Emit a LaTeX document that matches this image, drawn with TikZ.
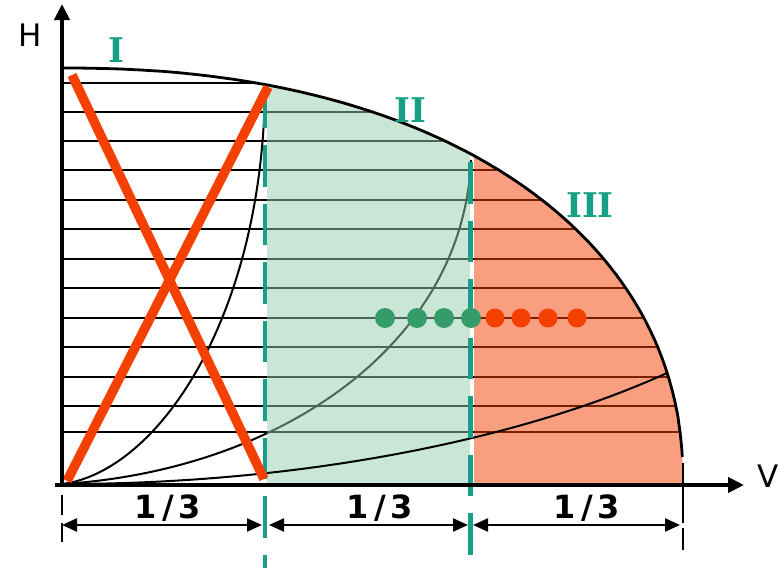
\documentclass[tikz,border=0pt]{standalone}
\usepackage{fontspec}
\usetikzlibrary{arrows.meta}
\newfontfamily\dvs{DejaVu Sans}
\newfontfamily\dvserif{DejaVu Serif}
\definecolor{tealc}{RGB}{22,160,133}
\definecolor{orangec}{RGB}{244,64,0}
\definecolor{greenfill}{RGB}{147,205,173}
\definecolor{dotg}{RGB}{53,155,106}
\begin{document}
\begin{tikzpicture}[x=1pt,y=-1pt,
  hatch/.style={line width=2.4pt,black},
  syscurve/.style={line width=2pt,black},
  bound/.style={line width=2.8pt,black},
  tealdash/.style={line width=4.5pt,tealc,dash pattern=on 41.5pt off 17pt},
  xstroke/.style={line width=9.5pt,orangec},
  axisline/.style={line width=4.8pt,black,-{Triangle[length=16pt,width=15pt]}},
  dimarrow/.style={line width=2.2pt,black,{Triangle[length=15pt,width=13pt]}-{Triangle[length=15pt,width=13pt]}},
  tick/.style={line width=2pt,black},
  lbl/.style={inner sep=0pt,font=\dvs\fontsize{31}{31}\selectfont},
  roman/.style={inner sep=0pt,text=tealc,font=\dvserif\bfseries\fontsize{34}{34}\selectfont},
  frac/.style={inner sep=0pt,anchor=base,font=\dvs\bfseries\fontsize{32}{32}\selectfont}]
\useasboundingbox (0,0) rectangle (780,570);
\begin{scope}
  \clip (62,486) -- (62,68) -- plot[domain=0.05:89.95,samples=150] ({62+621*(sin(\x))^0.9091},{485-417*(cos(\x))^0.9091}) -- (683,486) -- cycle;
  \foreach \yy in {83,112,141,170,200,229,259,288,318,347,377,406,432}
    \draw[hatch] (62,\yy) -- (700,\yy);
  % system curves 1 and 2
  \draw[syscurve] (63,484) .. controls (160,470) and (262,315) .. (265,90);
  \draw[syscurve] (63,484) .. controls (280,470) and (463,345) .. (471,160);
  % fills
  \fill[greenfill,opacity=0.5] (267,0) rectangle (469.5,490);
  \fill[orangec,opacity=0.5] (473.5,0) rectangle (700,490);
\end{scope}
% system curve 3
\draw[syscurve] (63,484) .. controls (300,484) and (520,440) .. (667,373);
% boundary
\draw[bound] (62,68) -- plot[domain=0.05:87.06,samples=150] ({62+621*(sin(\x))^0.9091},{485-417*(cos(\x))^0.9091});
\draw[tick,dash pattern=on 60pt off 5pt] (683,463) -- (683,550);
\draw[tick,dash pattern=on 20pt off 8pt] (62,495) -- (62,542);
% teal dashed dividers
\draw[tealdash,dash phase=3.5pt] (265,90) -- (265,568);
\draw[tealdash] (470.5,162) -- (470.5,555);
% red X
\draw[xstroke] (72,75) -- (264,479);
\draw[xstroke] (67,481) -- (268,87);
% operating points
\foreach \xx in {385,417,444,471} \fill[dotg] (\xx,318) circle[radius=10];
\foreach \xx in {495,521,548,577} \fill[orangec] (\xx,318) circle[radius=9.5];
% axes
\coordinate (o) at (62,487);
\coordinate (htop) at (62,4);
\coordinate (xo) at (55,485);
\coordinate (vend) at (744,485);
\draw[axisline] (o) -- (htop);
\draw[axisline] (xo) -- (vend);
% dimension arrows
\coordinate (d1a) at (62,525);
\coordinate (d1b) at (262,525);
\coordinate (d2a) at (269,525);
\coordinate (d2b) at (468,525);
\coordinate (d3a) at (473,525);
\coordinate (d3b) at (680,525);
\draw[dimarrow] (d1a) -- (d1b);
\draw[dimarrow] (d2a) -- (d2b);
\draw[dimarrow] (d3a) -- (d3b);
% labels
\node[lbl] (H) at (30,35) {H};
\node[lbl] (V) at (768,476) {V};
\node[roman] (r1) at (116,50) {I};
\node[roman] (r2) at (410,110) {II};
\node[roman] (r3) at (590,205) {III};
\node[frac] (f1) at (168,518) {1\kern5pt/\kern5pt3};
\node[frac] (f2) at (380,518) {1\kern5pt/\kern5pt3};
\node[frac] (f3) at (587,518) {1\kern5pt/\kern5pt3};
\end{tikzpicture}
\end{document}
